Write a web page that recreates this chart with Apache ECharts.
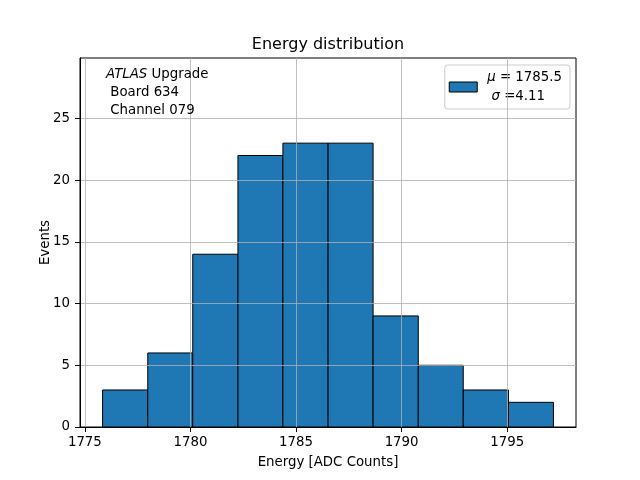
<!DOCTYPE html>
<html>
<head>
<meta charset="utf-8">
<script src="https://cdn.jsdelivr.net/npm/echarts@6/dist/echarts.min.js"></script>
<style>html,body{margin:0;padding:0;background:#fff}#c{width:640px;height:480px}</style>
</head>
<body>
<div id="c"></div>
<script>
// Histogram bin edges (ADC counts) and counts per bin
var binEdges = [1775.84, 1777.98, 1780.11, 1782.25, 1784.38, 1786.52, 1788.65, 1790.79, 1792.92, 1795.06, 1797.19];
var counts = [3, 6, 14, 22, 23, 23, 9, 5, 3, 2];
var xTicks = [1775, 1780, 1785, 1790, 1795];
var yTicks = [0, 5, 10, 15, 20, 25];
var xRange = [1774.77, 1798.26];
var yRange = [0, 29.9];
var legendLabel = '{i|\u03bc} = 1785.5\n {i|\u03c3} =4.11';
var infoText = '{i|ATLAS} Upgrade\n Board 634\n Channel 079';

var FONT = 'DejaVu Sans';
var data = counts.map(function (c, i) { return [binEdges[i], binEdges[i + 1], c]; });

var chart = echarts.init(document.getElementById('c'), null, { renderer: 'canvas' });
chart.setOption({
  animation: false,
  backgroundColor: '#ffffff',
  textStyle: { fontFamily: FONT },
  grid: { left: 80, right: 64, top: 58, bottom: 53, show: true, borderColor: '#000', borderWidth: 1, backgroundColor: 'transparent' },
  graphic: [
    { type: 'text', style: { text: 'Energy distribution', x: 328, y: 45, textAlign: 'center', textVerticalAlign: 'middle', font: '16px "DejaVu Sans"', fill: '#000' } },
    { type: 'text', style: { text: infoText, x: 106, y: 65, fill: '#000', font: '13.33px "DejaVu Sans"', lineHeight: 18.3,
      rich: { i: { fontStyle: 'italic', fontSize: 13.33, fontFamily: FONT, lineHeight: 18.3 } } }, z: 10 }
  ],
  legend: {
    right: 70, top: 65, orient: 'vertical',
    backgroundColor: 'rgba(255,255,255,0.8)', borderColor: '#cccccc', borderWidth: 1, borderRadius: 3,
    padding: [3, 8, 3, 4],
    itemWidth: 28, itemHeight: 10,
    icon: 'rect',
    textStyle: { fontFamily: FONT, fontSize: 13.33, color: '#000', lineHeight: 19, padding: [0, 0, 0, 5],
      rich: { i: { fontStyle: 'italic', fontFamily: FONT, fontSize: 13.33, lineHeight: 19 } } },
    data: [{ name: legendLabel, itemStyle: { color: '#1f77b4', borderColor: '#000', borderWidth: 1 } }]
  },
  xAxis: {
    type: 'value', min: xRange[0], max: xRange[1], z: 5,
    name: 'Energy [ADC Counts]', nameLocation: 'middle', nameGap: 29, nameMoveOverlap: false,
    nameTextStyle: { fontFamily: FONT, fontSize: 13.33, color: '#000' },
    axisLine: { show: true, lineStyle: { color: '#000', width: 1 } },
    axisTick: { show: true, length: 5, customValues: xTicks, lineStyle: { color: '#000', width: 1 } },
    axisLabel: { customValues: xTicks, margin: 9, fontFamily: FONT, fontSize: 13.33, color: '#000',
      formatter: function (v) { return String(v); } },
    splitLine: { show: true, customValues: xTicks, lineStyle: { color: '#b0b0b0', width: 0.8 } }
  },
  yAxis: {
    type: 'value', min: yRange[0], max: yRange[1], z: 5,
    name: 'Events', nameLocation: 'middle', nameGap: 28, nameMoveOverlap: false,
    nameTextStyle: { fontFamily: FONT, fontSize: 13.33, color: '#000' },
    axisLine: { show: true, lineStyle: { color: '#000', width: 1 } },
    axisTick: { show: true, length: 5, customValues: yTicks, lineStyle: { color: '#000', width: 1 } },
    axisLabel: { customValues: yTicks, margin: 10, fontFamily: FONT, fontSize: 13.33, color: '#000',
      formatter: function (v) { return String(v); } },
    splitLine: { show: true, customValues: yTicks, lineStyle: { color: '#b0b0b0', width: 0.8 } }
  },
  series: [{
    type: 'custom',
    name: legendLabel,
    itemStyle: { color: '#1f77b4', borderColor: '#000', borderWidth: 1 },
    encode: { x: [0, 1], y: 2 },
    data: data,
    renderItem: function (params, api) {
      var p0 = api.coord([api.value(0), 0]);
      var p1 = api.coord([api.value(1), api.value(2)]);
      return {
        type: 'rect',
        shape: { x: p0[0], y: p1[1], width: p1[0] - p0[0], height: p0[1] - p1[1] },
        style: { fill: '#1f77b4', stroke: '#000', lineWidth: 1 }
      };
    }
  }]
});
</script>
</body>
</html>
